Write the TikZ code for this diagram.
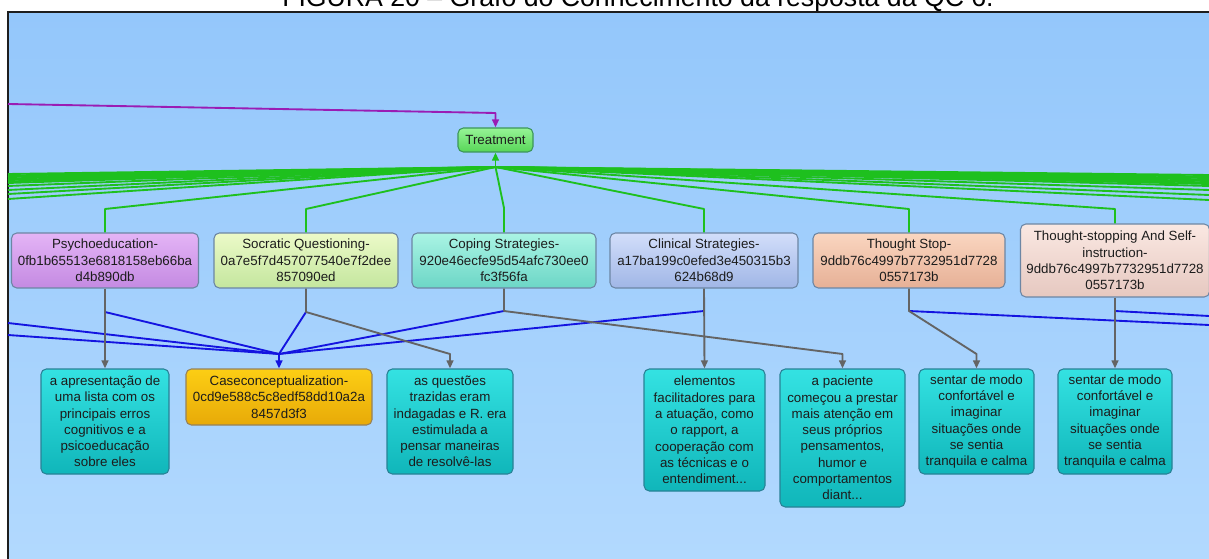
\documentclass[tikz,border=0pt]{standalone}
\usepackage{fontspec}
\setmainfont{Liberation Sans}
\usetikzlibrary{arrows.meta}

\definecolor{bgtop}{HTML}{94C7FB}
\definecolor{bgbot}{HTML}{B2D9FE}
\definecolor{frame}{HTML}{1E1E1E}
\definecolor{ink}{HTML}{1C1C1C}
\definecolor{edgegreen}{HTML}{1EC01E}
\definecolor{edgegray}{HTML}{646464}
\definecolor{edgeblue}{HTML}{1414E0}
\definecolor{edgepurple}{HTML}{9A1CB4}
\definecolor{boxline}{HTML}{6C86A4}
\definecolor{leaftop}{RGB}{52,226,226}
\definecolor{leafbot}{RGB}{16,182,186}
\definecolor{leafline}{RGB}{40,130,150}

\begin{document}
\begin{tikzpicture}[x=0.75pt,y=-0.75pt,
  txt/.style={font=\fontsize{10}{12.2}\selectfont, text=ink, align=center, inner sep=0pt},
  card/.style n args={2}{txt, draw=boxline, line width=0.8pt, rounded corners=4pt,
    minimum width=#1*0.75pt, minimum height=#2*0.75pt},
  leaf/.style={top color=leaftop, bottom color=leafbot, draw=leafline},
  link/.style={line width=1.4pt, line join=round},
  tip/.style={-{Triangle[length=6pt,width=5pt]}},
  green link/.style={link, draw=edgegreen},
  gray link/.style={link, draw=edgegray},
  blue link/.style={link, draw=edgeblue},
  purple link/.style={link, draw=edgepurple}
]
\useasboundingbox (0,0) rectangle (1209,559);
\fill[white] (0,0) rectangle (1209,559);

% caption running above the frame
\node[font=\fontsize{20}{24}\selectfont, text=black, anchor=base, inner sep=0pt] (caption)
  at (638,7) {FIGURA 20 – Grafo do Conhecimento da resposta da QC 6.};

% canvas
\shade[top color=bgtop, bottom color=bgbot] (7.5,12.5) rectangle (1209,559);
\draw[frame, line width=1.5pt] (7.5,559) -- (7.5,12.5) -- (1209,12.5);

% ---- nodes ----
\node[card={75}{24}, top color={rgb,255:red,150;green,244;blue,150}, bottom color={rgb,255:red,88;green,214;blue,88}, draw={rgb,255:red,60;green,150;blue,90}]
  (treat) at (495.5,140) {Treatment};

\node[card={187}{55}, top color={rgb,255:red,228;green,180;blue,246}, bottom color={rgb,255:red,196;green,138;blue,226}]
  (psy) at (105,260.5) {Psychoeducation-\\0fb1b65513e6818158eb66ba\\d4b890db};
\node[card={184}{55}, top color={rgb,255:red,236;green,250;blue,200}, bottom color={rgb,255:red,196;green,230;blue,158}]
  (soc) at (306,260.5) {Socratic Questioning-\\0a7e5f7d457077540e7f2dee\\857090ed};
\node[card={184}{55}, top color={rgb,255:red,170;green,244;blue,228}, bottom color={rgb,255:red,108;green,214;blue,198}]
  (cop) at (504,260.5) {Coping Strategies-\\920e46ecfe95d54afc730ee0\\fc3f56fa};
\node[card={188}{55}, top color={rgb,255:red,210;green,222;blue,250}, bottom color={rgb,255:red,160;green,182;blue,230}]
  (cli) at (704,260.5) {Clinical Strategies-\\a17ba199c0efed3e450315b3\\624b68d9};
\node[card={192}{55}, top color={rgb,255:red,250;green,214;blue,192}, bottom color={rgb,255:red,230;green,176;blue,150}]
  (ts) at (909,260.5) {Thought Stop-\\9ddb76c4997b7732951d7728\\0557173b};
\node[card={189}{73}, top color={rgb,255:red,250;green,232;blue,226}, bottom color={rgb,255:red,230;green,200;blue,192}]
  (tssi) at (1115,260.5) {Thought-stopping And Self-\\instruction-\\9ddb76c4997b7732951d7728\\0557173b};

\node[card={128}{105}, leaf] (apr) at (105,421.5)
  {a apresentação de\\uma lista com os\\principais erros\\cognitivos e a\\psicoeducação\\sobre eles};
\node[card={186}{56}, top color={rgb,255:red,252;green,206;blue,20}, bottom color={rgb,255:red,232;green,170;blue,8}, draw={rgb,255:red,150;green,130;blue,90}]
  (case) at (279,397) {Caseconceptualization-\\0cd9e588c5c8edf58dd10a2a\\8457d3f3};
\node[card={126}{105}, leaf] (que) at (450,421.5)
  {as questões\\trazidas eram\\indagadas e R. era\\estimulada a\\pensar maneiras\\de resolvê-las};
\node[card={121}{122}, leaf] (ele) at (704.5,430)
  {elementos\\facilitadores para\\a atuação, como\\o rapport, a\\cooperação com\\as técnicas e o\\entendiment...};
\node[card={125}{138}, leaf] (pac) at (842.5,438)
  {a paciente\\começou a prestar\\mais atenção em\\seus próprios\\pensamentos,\\humor e\\comportamentos\\diant...};
\node[card={115}{105}, leaf] (sen1) at (976.5,421.5)
  {sentar de modo\\confortável e\\imaginar\\situações onde\\se sentia\\tranquila e calma};
\node[card={114}{105}, leaf] (sen2) at (1115,421.5)
  {sentar de modo\\confortável e\\imaginar\\situações onde\\se sentia\\tranquila e calma};

% ---- junction points ----
\coordinate (G) at (495.5,167);   % green bundle meets below Treatment
\coordinate (C) at (279,354);     % blue bundle meets above Caseconceptualization
\coordinate (psyj) at (105,312);
\coordinate (socj) at (306,312);
\coordinate (copj) at (504,311);
\coordinate (clij) at (704,311);
\coordinate (tsj)  at (909,311);
\coordinate (tssij) at (1115,311);

% ---- purple edge into Treatment ----
\coordinate (pin) at (8,104);
\draw[purple link, tip] (pin) -- (495.5,113) -- (treat.north);

% ---- green edges towards Treatment ----
\foreach \yy in {174,175.5,177,178.5,180,181.5,183,186,190,194,199}
  \draw[green link] (8,\yy) -- (G);
\foreach \yy in {175,176.5,178,179.5,181,182.5,184,186,190,195,200}
  \draw[green link] (1209,\yy) -- (G);
\draw[green link] (psy.north) -- (105,209) -- (G);
\draw[green link] (soc.north) -- (306,209) -- (G);
\draw[green link] (cop.north) -- (504,208) -- (G);
\draw[green link] (cli.north) -- (704,209) -- (G);
\draw[green link] (ts.north) -- (909,209) -- (G);
\draw[green link] (tssi.north) -- (1115,209) -- (G);
\draw[green link, tip] (G) -- (treat.south);

% ---- blue edges into Caseconceptualization ----
\draw[blue link] (8,323) -- (C);
\draw[blue link] (8,335) -- (C);
\draw[blue link] (psyj) -- (C);
\draw[blue link] (socj) -- (C);
\draw[blue link] (copj) -- (C);
\draw[blue link] (clij) -- (C);
\draw[blue link, tip] (C) -- (case.north);
\draw[blue link] (tsj) -- (1209,325);
\draw[blue link] (tssij) -- (1209,316);

% ---- gray edges to the text nodes ----
\draw[gray link, tip] (psy.south) -- (apr.north);
\draw[gray link, tip] (soc.south) -- (socj) -- (450,354) -- (que.north);
\draw[gray link, tip] (cop.south) -- (copj) -- (842.5,354) -- (pac.north);
\draw[gray link, tip] (cli.south) -- (ele.north);
\draw[gray link, tip] (ts.south) -- (tsj) -- (976.5,354) -- (sen1.north);
\draw[gray link, tip] (tssi.south) -- (sen2.north);
\end{tikzpicture}
\end{document}
